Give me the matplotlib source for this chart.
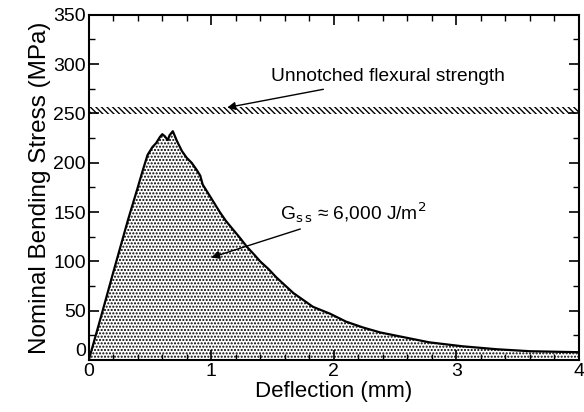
import matplotlib
matplotlib.use("Agg")
import matplotlib.pyplot as plt
from matplotlib.ticker import MultipleLocator

plt.rcParams["font.family"] = ["Liberation Sans", "DejaVu Sans"]
plt.rcParams["hatch.linewidth"] = 1.0

# load-deflection curve
deflection = [0, 0.1, 0.2, 0.32, 0.40, 0.44, 0.48, 0.52, 0.55, 0.58, 0.60, 0.62,
              0.645, 0.66, 0.686, 0.70, 0.72, 0.76, 0.80, 0.84, 0.88, 0.91, 0.93,
              0.96, 1.01, 1.07, 1.12, 1.18, 1.24, 1.29, 1.35, 1.40, 1.47, 1.53,
              1.60, 1.67, 1.75, 1.83, 1.97, 2.10, 2.24, 2.38, 2.54, 2.78, 3.05,
              3.33, 3.60, 3.80, 4.0]
stress = [0, 44, 89, 142, 175, 192, 208, 216, 220, 226, 229, 227,
          223, 228, 232, 228, 222, 212, 205, 200, 193, 187, 178,
          172, 162, 150, 141, 132, 123, 115, 107, 100, 92, 84,
          76, 68, 61, 54, 47, 39, 33, 28, 24, 18, 14,
          11, 9, 8.5, 8]

strength_low = 249
strength_high = 256.5

fig = plt.figure(figsize=(5.84, 4.12), dpi=100)
ax = fig.add_axes([0.152, 0.126, 0.839, 0.838])

# stippled area under the curve
ax.fill_between(deflection, stress, 0, facecolor="white", edgecolor="black",
                hatch=".....", linewidth=0)
ax.plot(deflection, stress, color="black", lw=1.6)

# hatched band for unnotched strength
ax.fill_between([0, 4], strength_low, strength_high, facecolor="white",
                edgecolor="black", hatch="\\\\\\\\\\\\", linewidth=0)

ax.annotate("Unnotched flexural strength", xy=(1.13, 256), xytext=(1.49, 287),
            fontsize=13.8, va="center", ha="left",
            arrowprops=dict(arrowstyle="-|>", color="black", lw=1,
                            shrinkA=4, shrinkB=0, mutation_scale=12))
ax.annotate(r"G$_{\mathrm{s\,s}}$ ≈ 6,000 J/m$^2$", xy=(1.0, 104), xytext=(1.56, 150),
            fontsize=13.8, va="center", ha="left",
            arrowprops=dict(arrowstyle="-|>", color="black", lw=1,
                            shrinkA=4, shrinkB=0, mutation_scale=12))

ax.set_xlim(0, 4)
ax.set_ylim(0, 350)
ax.xaxis.set_major_locator(MultipleLocator(1))
ax.xaxis.set_minor_locator(MultipleLocator(0.2))
ax.yaxis.set_major_locator(MultipleLocator(50))
ax.yaxis.set_minor_locator(MultipleLocator(25))
ax.tick_params(which="both", direction="in", top=True, right=True, labelsize=14, pad=2)
ax.tick_params(which="major", length=7, width=1.2)
ax.tick_params(which="minor", length=4, width=1)
for sp in ax.spines.values():
    sp.set_linewidth(1.5)

ax.set_xlabel("Deflection (mm)", fontsize=16, labelpad=1)
ax.set_ylabel("Nominal Bending Stress (MPa)", fontsize=17.5, labelpad=2)

# lift the y "0" so it clears the x "0"
fig.canvas.draw()
for t in ax.yaxis.get_major_ticks():
    if abs(t.get_loc()) < 1e-9:
        t.label1.set_verticalalignment("bottom")

fig.savefig("out.png", dpi=100)
